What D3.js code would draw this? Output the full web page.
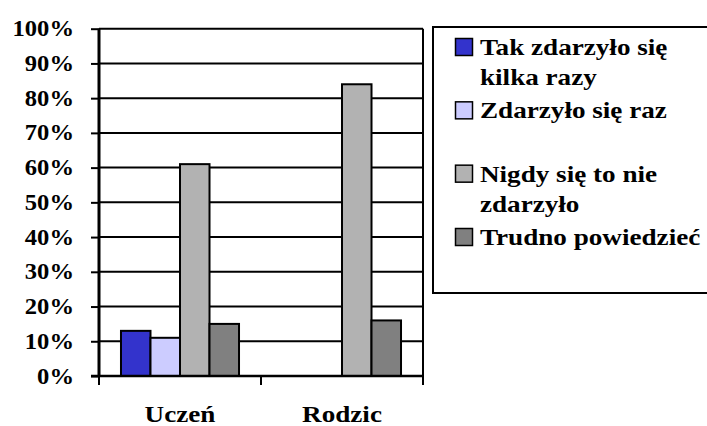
<!DOCTYPE html>
<html>
<head>
<meta charset="utf-8">
<script src="https://cdn.jsdelivr.net/npm/d3@7"></script>
</head>
<body style="margin:0">
<svg id="chart" width="707" height="426"></svg>
<script>
const categories = ["Uczeń", "Rodzic"];
const seriesNames = [
  "Tak zdarzyło się kilka razy",
  "Zdarzyło się raz",
  "Nigdy się to nie zdarzyło",
  "Trudno powiedzieć",
];
const seriesColors = ["#3333cc", "#ccccff", "#b2b2b2", "#808080"];
// values in percent, one array per category, in series order
const uczenValues = [13, 11, 61, 15];
const rodzicValues = [0, 0, 84, 16];
const yTicks = [0, 10, 20, 30, 40, 50, 60, 70, 80, 90, 100];

const fs = 23; // font size
const sxAxis = 1.07; // the original text is a bit wide
const sxText = 1.18;
const plot = { left: 99, right: 423, top: 28.7, bottom: 376 };

const svg = d3.select("#chart");
const values = [uczenValues, rodzicValues];

function label(parent, x, y, anchor, sx) {
  return parent
    .append("g")
    .attr("transform", `translate(${x},${y}) scale(${sx},1)`)
    .append("text")
    .attr("text-anchor", anchor)
    .attr("font-family", "Liberation Serif")
    .attr("font-weight", "bold")
    .attr("font-size", fs)
    .attr("fill", "#000");
}

// Scales
const xScale = d3.scaleBand().domain(categories).range([plot.left, plot.right]);

const inner = d3
  .scaleBand()
  .domain(seriesNames)
  .range([0, xScale.bandwidth()])
  .paddingOuter(0.745)
  .paddingInner(0);

const yScale = d3.scaleLinear().domain([0, 100]).range([plot.bottom, plot.top]);

// Gridlines
svg
  .append("g")
  .selectAll("line")
  .data(yTicks.filter((d) => d > 0))
  .enter()
  .append("line")
  .attr("x1", plot.left)
  .attr("x2", plot.right)
  .attr("y1", (d) => yScale(d))
  .attr("y2", (d) => yScale(d))
  .attr("stroke", "#000")
  .attr("stroke-width", 2);

// right border of plot area
svg
  .append("line")
  .attr("x1", plot.right)
  .attr("x2", plot.right)
  .attr("y1", plot.top)
  .attr("y2", plot.bottom)
  .attr("stroke", "#000")
  .attr("stroke-width", 2);

// Bars
categories.forEach((cat, ci) => {
  svg
    .append("g")
    .selectAll("rect")
    .data(values[ci].map((v, i) => ({ name: seriesNames[i], v: v, c: seriesColors[i] })))
    .enter()
    .filter((d) => d.v > 0)
    .append("rect")
    .attr("x", (d) => xScale(cat) + inner(d.name))
    .attr("y", (d) => yScale(d.v))
    .attr("width", inner.bandwidth())
    .attr("height", (d) => plot.bottom - yScale(d.v))
    .attr("fill", (d) => d.c)
    .attr("stroke", "#000")
    .attr("stroke-width", 2);
});

// Axes
const yAxis = d3.axisLeft(yScale).tickValues(yTicks).tickSize(8).tickFormat("");

const yG = svg
  .append("g")
  .attr("transform", `translate(${plot.left}, 0)`)
  .call(yAxis);
yG.select(".domain").attr("stroke-width", 3).attr("d", `M0,${plot.top}V${plot.bottom}`);
yG.selectAll(".tick line").attr("stroke-width", 2);

yTicks.forEach((t) => {
  label(svg, plot.left - 25, yScale(t) + 7.5, "end", sxAxis).text(t + "%");
});

// x axis line and category boundary ticks
svg
  .append("line")
  .attr("x1", plot.left - 8)
  .attr("x2", plot.right)
  .attr("y1", plot.bottom)
  .attr("y2", plot.bottom)
  .attr("stroke", "#000")
  .attr("stroke-width", 2.5);

const boundaries = categories.map((c) => xScale(c)).concat([plot.right]);
svg
  .append("g")
  .selectAll("line")
  .data(boundaries)
  .enter()
  .append("line")
  .attr("x1", (d) => d)
  .attr("x2", (d) => d)
  .attr("y1", plot.bottom)
  .attr("y2", plot.bottom + 9)
  .attr("stroke", "#000")
  .attr("stroke-width", 2);

categories.forEach((c) => {
  label(svg, xScale(c) + xScale.bandwidth() / 2, 422, "middle", sxText).text(c);
});

// Legend
const legend = svg.append("g");
legend
  .append("rect")
  .attr("x", 433)
  .attr("y", 27)
  .attr("width", 290)
  .attr("height", 266)
  .attr("fill", "#fff")
  .attr("stroke", "#000")
  .attr("stroke-width", 2);

const legendY = d3.scalePoint().domain(seriesNames).range([55, 245]);

seriesNames.forEach((name, i) => {
  const y = legendY(name);
  legend
    .append("rect")
    .attr("x", 455.5)
    .attr("y", y - 16.5)
    .attr("width", 17)
    .attr("height", 17)
    .attr("fill", seriesColors[i])
    .attr("stroke", "#000")
    .attr("stroke-width", 1.5);

  // wrap to the legend width
  const words = name.split(" ");
  let line = [];
  let lineNo = 0;
  let text = label(legend, 480, y, "start", sxText);
  words.forEach((w) => {
    line.push(w);
    text.text(line.join(" "));
    if (text.node().getComputedTextLength() * sxText > 226 && line.length > 1) {
      line.pop();
      text.text(line.join(" "));
      line = [w];
      lineNo++;
      text = label(legend, 480, y + lineNo * 30, "start", sxText).text(w);
    }
  });
});
</script>
</body>
</html>
